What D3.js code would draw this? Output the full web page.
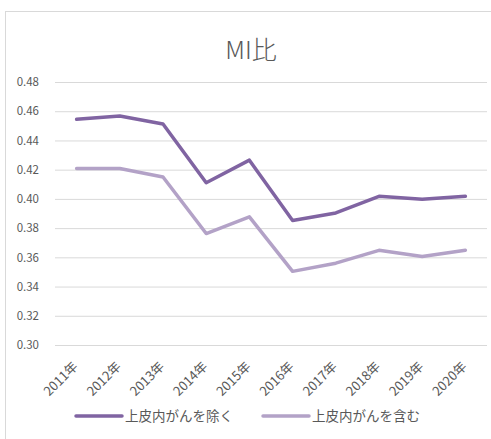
<!DOCTYPE html>
<html>
<head>
<meta charset="utf-8">
<script src="https://cdn.jsdelivr.net/npm/d3@7"></script>
<style>
  body { margin: 0; background: #fff; }
  svg text { font-family: "Noto Sans CJK JP", "Noto Sans", sans-serif; fill: #595959; }
</style>
</head>
<body>
<div id="chart"></div>
<script>
// data
const years = ["2011年","2012年","2013年","2014年","2015年","2016年","2017年","2018年","2019年","2020年"];
const excl = [0.4545, 0.4567, 0.4512, 0.4110, 0.4265, 0.3852, 0.3904, 0.4018, 0.3998, 0.4018];
const incl = [0.4208, 0.4208, 0.4150, 0.3763, 0.3877, 0.3504, 0.3560, 0.3648, 0.3606, 0.3648];
const yTicks = [0.30, 0.32, 0.34, 0.36, 0.38, 0.40, 0.42, 0.44, 0.46, 0.48];
const seriesNames = ["上皮内がんを除く", "上皮内がんを含む"];
const colors = ["#8064a2", "#b3a2c7"];

const W = 491, H = 439;
const svg = d3.select("#chart").append("svg")
    .attr("width", W).attr("height", H);

// chart border (runs off the right and bottom edge)
svg.append("rect")
    .attr("x", 5.5).attr("y", 11.5)
    .attr("width", 600).attr("height", 600)
    .attr("fill", "none").attr("stroke", "#d9d9d9");

let margin = {left: 55, right: 4, top: 82, bottom: 94};

let x = d3.scaleBand()
    .domain(years)
    .range([margin.left, W - margin.right]);
let y = d3.scaleLinear()
    .domain([0.30, 0.48])
    .range([H - margin.bottom, margin.top]);

// title
svg.append("text")
    .attr("x", 251).attr("y", 59)
    .attr("text-anchor", "middle")
    .style("font-size", "25px")
    .style("font-weight", "300")
    .text("MI比");

// gridlines + y labels
let yaxis = svg.append("g")
    .attr("transform", "translate(" + margin.left + ",0)")
    .call(d3.axisLeft(y).tickValues(yTicks).tickFormat(d3.format(".2f"))
        .tickSize(-(W - margin.right - margin.left)).tickPadding(16));
yaxis.select(".domain").remove();
yaxis.selectAll(".tick line").attr("stroke", "#d9d9d9").attr("stroke-width", 1);
yaxis.selectAll(".tick text").style("font-size", "11.5px").attr("fill", "#595959");

// x labels
let xaxis = svg.append("g")
    .attr("transform", "translate(0," + (H - margin.bottom) + ")")
    .call(d3.axisBottom(x).tickSize(0).tickPadding(0));
xaxis.select(".domain").remove();
xaxis.selectAll(".tick text")
    .attr("text-anchor", "end")
    .attr("transform", "translate(-1,19) rotate(-45)")
    .attr("dy", "0.35em")
    .style("font-size", "13px")
    .attr("fill", "#595959");

// lines
let line = d3.line()
    .x((d, i) => x(years[i]) + x.bandwidth() / 2)
    .y(d => y(d));
[incl, excl].forEach((s, k) => {
    svg.append("path")
        .datum(s)
        .attr("fill", "none")
        .attr("stroke", colors[1 - k])
        .attr("stroke-width", 3.5)
        .attr("stroke-linejoin", "round")
        .attr("stroke-linecap", "round")
        .attr("d", line);
});

// legend
let legendX = [76, 263];
seriesNames.forEach((name, i) => {
    let g = svg.append("g").attr("transform", "translate(" + legendX[i] + ",416)");
    g.append("line")
        .attr("x1", 0).attr("x2", 46)
        .attr("stroke", colors[i]).attr("stroke-width", 3.5)
        .attr("stroke-linecap", "round");
    g.append("text")
        .attr("x", 49).attr("dy", "0.35em")
        .style("font-size", "13.5px")
        .text(name);
});
</script>
</body>
</html>
